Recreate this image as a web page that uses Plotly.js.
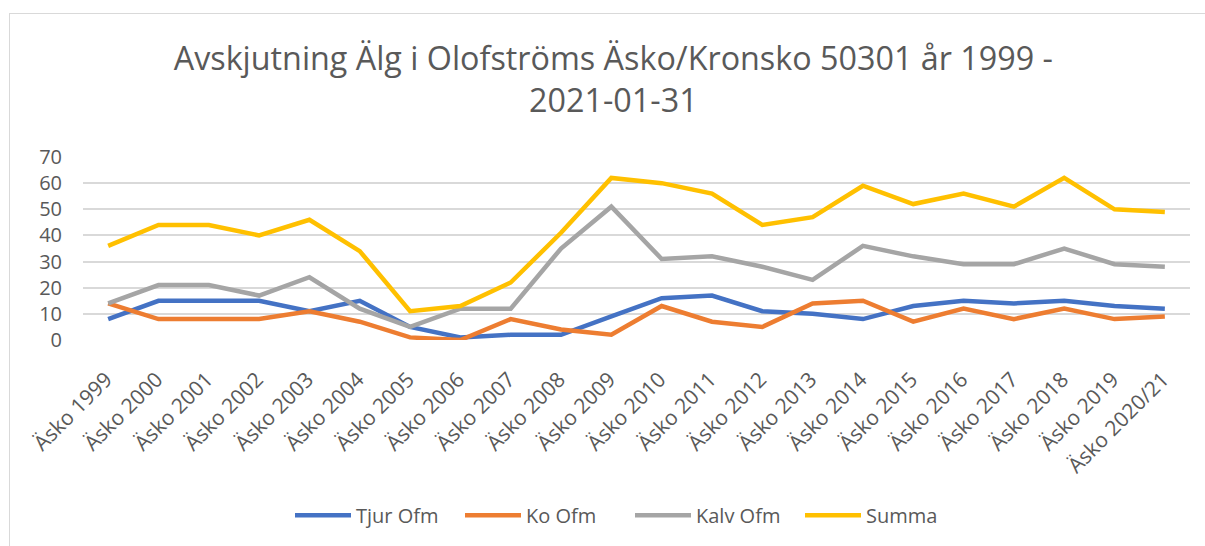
<!DOCTYPE html>
<html>
<head>
<meta charset="utf-8">
<script src="https://cdn.plot.ly/plotly-3.0.1.min.js"></script>
<style>
  html, body { margin: 0; padding: 0; background: #ffffff; overflow: hidden; }
  #frame { position: absolute; left: 9px; top: 13px; width: 1400px; height: 800px; border: 1px solid #d9d9d9; box-sizing: border-box; }
  #chart { position: absolute; left: 0; top: 0; width: 1205px; height: 546px; }
</style>
</head>
<body>
<div id="frame"></div>
<div id="chart"></div>
<script>
const categories = ["Äsko 1999","Äsko 2000","Äsko 2001","Äsko 2002","Äsko 2003","Äsko 2004","Äsko 2005","Äsko 2006","Äsko 2007","Äsko 2008","Äsko 2009","Äsko 2010","Äsko 2011","Äsko 2012","Äsko 2013","Äsko 2014","Äsko 2015","Äsko 2016","Äsko 2017","Äsko 2018","Äsko 2019","Äsko 2020/21"];
const tjurOfm = [8,15,15,15,11,15,5,1,2,2,9,16,17,11,10,8,13,15,14,15,13,12];
const koOfm   = [14,8,8,8,11,7,1,0,8,4,2,13,7,5,14,15,7,12,8,12,8,9];
const kalvOfm = [14,21,21,17,24,12,5,12,12,35,51,31,32,28,23,36,32,29,29,35,29,28];
const summa   = [36,44,44,40,46,34,11,13,22,41,62,60,56,44,47,59,52,56,51,62,50,49];
const seriesNames = ["Tjur Ofm","Ko Ofm","Kalv Ofm","Summa"];
const yTicks = [0,10,20,30,40,50,60,70];
const titleText = "Avskjutning Älg i Olofströms Äsko/Kronsko 50301 år 1999 -<br>2021-01-31";

const colors = ["#4472C4","#ED7D31","#A5A5A5","#FFC000"];
const seriesData = [tjurOfm, koOfm, kalvOfm, summa];

const traces = seriesData.map((vals, i) => ({
  type: "scatter",
  mode: "lines",
  x: categories,
  y: vals,
  name: seriesNames[i],
  line: { color: colors[i], width: 4.5, shape: "linear" },
  hoverinfo: "x+y+name"
}));

const font = "'Open Sans', 'Noto Sans', sans-serif";

const layout = {
  width: 1205,
  height: 546,
  paper_bgcolor: "rgba(0,0,0,0)",
  plot_bgcolor: "rgba(0,0,0,0)",
  margin: { l: 83, r: 15, t: 157, b: 203 },
  font: { family: font, color: "#595959", size: 20 },
  title: {
    text: titleText,
    font: { family: font, size: 32.3, color: "#595959" },
    x: 0.509, xref: "container", xanchor: "center",
    y: 1 - 70/546, yref: "container", yanchor: "middle"
  },
  xaxis: {
    type: "category",
    range: [-0.5, categories.length - 0.5],
    tickangle: -45,
    tickfont: { size: 21, color: "#595959" },
    showgrid: false,
    showline: false,
    zeroline: false,
    ticks: "",
    ticklabelstandoff: 22,
    ticklabelshift: -2,
    fixedrange: true
  },
  yaxis: {
    range: [0, 70],
    tickvals: yTicks,
    ticktext: yTicks.map(String),
    tickfont: { size: 20, color: "#595959" },
    showgrid: true,
    gridcolor: "#d9d9d9",
    gridwidth: 1.5,
    zeroline: false,
    showline: false,
    ticks: "",
    ticklabelstandoff: 20,
    fixedrange: true
  },
  showlegend: true,
  legend: {
    orientation: "h",
    x: (290 - 83) / 1107, xanchor: "left",
    y: (343 - 521) / 186, yanchor: "middle",
    font: { size: 20, color: "#595959" },
    itemwidth: 56,
    entrywidth: 99,
    entrywidthmode: "pixels",
    bgcolor: "rgba(0,0,0,0)",
    itemclick: false,
    itemdoubleclick: false
  }
};

Plotly.newPlot("chart", traces, layout, { displayModeBar: false });
</script>
</body>
</html>
